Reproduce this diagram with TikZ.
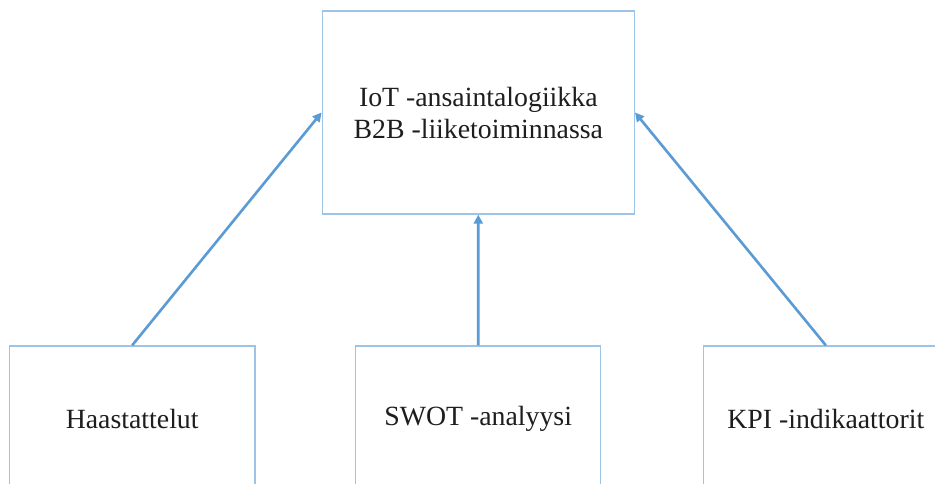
\documentclass[tikz,border=0pt]{standalone}
\usepackage{fontspec}
\setmainfont{Liberation Serif}
\usetikzlibrary{arrows.meta}
\definecolor{boxline}{RGB}{157,195,230}
\definecolor{arrowblue}{RGB}{91,155,213}
\definecolor{txt}{RGB}{30,30,30}
\tikzset{
  box/.style={draw=boxline, line width=1.4pt, fill=white, inner sep=0pt,
    text=txt, align=center, font=\fontsize{27.8}{32}\selectfont},
  conn/.style={draw=arrowblue, line width=2.6pt,
    -{Triangle[length=9pt,width=9pt]}}
}
\begin{document}
\begin{tikzpicture}[x=1pt,y=1pt]
\useasboundingbox (0,0) rectangle (935,484);
\clip (0,0) rectangle (935,484);
\fill[white] (0,0) rectangle (935,484);
\node[box, minimum width=312pt, minimum height=203pt] (t) at (478.3,371.5)
  {IoT -ansaintalogiikka\\B2B -liiketoiminnassa};
\node[box, minimum width=245.7pt, minimum height=146pt] (l) at (132.2,65) {Haastattelut};
\node[box, minimum width=245pt, minimum height=146pt] (m) at (478.2,65) {SWOT -analyysi};
\node[box, minimum width=245pt, minimum height=146pt] (r) at (825.8,65) {KPI -indikaattorit};
\draw[conn] (l.north) -- (t.west);
\draw[conn] (m.north) -- (t.south);
\draw[conn] (r.north) -- (t.east);
\end{tikzpicture}
\end{document}
